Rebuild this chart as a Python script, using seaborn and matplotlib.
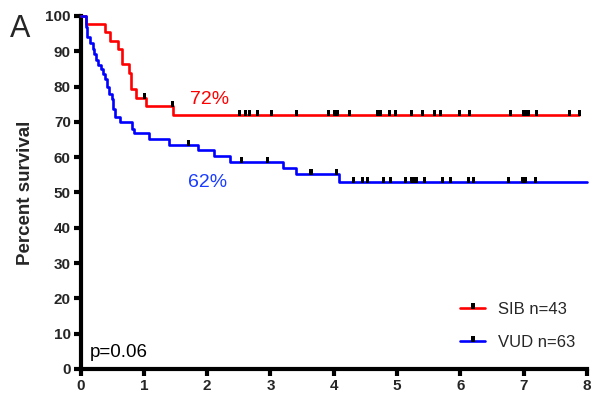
import numpy as np
import pandas as pd
import seaborn as sns
import matplotlib
matplotlib.use("Agg")
import matplotlib.pyplot as plt
from matplotlib.lines import Line2D
from matplotlib.path import Path
from matplotlib.legend_handler import HandlerTuple

# ---- data ----
sib_time = [0, 0.09, 0.38, 0.47, 0.59, 0.65, 0.77, 0.80, 0.87, 1.04, 1.46, 7.88]
sib_surv = [100, 97.7, 95.4, 93.0, 90.7, 86.3, 83.9, 79.2, 76.8, 74.5, 72.0, 72.0]
sib_cens_time = [1.01, 1.46, 2.51, 2.61, 2.67, 2.80, 3.02, 3.41, 3.92, 4.02, 4.06, 4.25,
                 4.69, 4.73, 4.88, 4.98, 5.23, 5.40, 5.59, 5.68, 5.98, 6.14, 6.79,
                 6.99, 7.03, 7.07, 7.20, 7.73, 7.88]
sib_cens_surv = [76.8, 74.5] + [72.0] * 27

vud_time = [0, 0.08, 0.09, 0.10, 0.11, 0.15, 0.19, 0.22, 0.24, 0.27, 0.33, 0.36, 0.39,
            0.42, 0.45, 0.49, 0.52, 0.55, 0.62, 0.81, 0.84, 1.08, 1.39, 1.86, 2.11,
            2.36, 3.20, 3.40, 4.09, 8.0]
vud_surv = [100, 98.4, 96.8, 95.2, 94.0, 92.2, 90.7, 89.3, 87.4, 86.0, 85.0, 83.6, 82.2,
            79.9, 78.0, 76.6, 73.7, 71.4, 70.0, 67.9, 66.7, 65.2, 63.5, 62.0, 60.4,
            58.7, 56.9, 55.1, 52.9, 52.9]
vud_cens_time = [1.71, 2.54, 2.95, 3.64, 4.05, 4.31, 4.45, 4.53, 4.78, 4.89, 5.13, 5.23,
                 5.27, 5.30, 5.43, 5.72, 5.85, 6.13, 6.20, 6.76, 6.98, 7.02, 7.18]
vud_cens_surv = [63.5, 58.7, 58.7, 55.1, 55.1] + [52.9] * 18

groups = ["SIB n=43", "VUD n=63"]
colors = {"SIB n=43": "#ff0000", "VUD n=63": "#0000ff"}
x_ticks = [0, 1, 2, 3, 4, 5, 6, 7, 8]
y_ticks = [0, 10, 20, 30, 40, 50, 60, 70, 80, 90, 100]

curves = pd.concat([
    pd.DataFrame({"time": sib_time, "surv": sib_surv, "group": groups[0]}),
    pd.DataFrame({"time": vud_time, "surv": vud_surv, "group": groups[1]}),
])
cens = pd.concat([
    pd.DataFrame({"time": sib_cens_time, "surv": sib_cens_surv, "group": groups[0]}),
    pd.DataFrame({"time": vud_cens_time, "surv": vud_cens_surv, "group": groups[1]}),
])

# ---- style ----
sns.set_style("white")
plt.rcParams["font.family"] = ["Liberation Sans", "DejaVu Sans"]

fig = plt.figure(figsize=(5.92, 3.99), dpi=100)
ax = fig.add_axes([0.136, 0.0752, 0.8556, 0.885])

for g in groups:
    sub = curves[curves.group == g]
    sns.lineplot(data=sub, x="time", y="surv", color=colors[g], lw=1.9,
                 drawstyle="steps-post", ax=ax, clip_on=False, zorder=3,
                 estimator=None, sort=False, legend=False)

tick_marker = Path([(-0.3, -0.2), (0.3, -0.2), (0.3, 1.0), (-0.3, 1.0), (-0.3, -0.2)],
                   [Path.MOVETO, Path.LINETO, Path.LINETO, Path.LINETO, Path.CLOSEPOLY])
sns.scatterplot(data=cens, x="time", y="surv", marker=tick_marker, s=55,
                color="black", edgecolor="none", linewidth=0, ax=ax,
                zorder=4, clip_on=False, legend=False)

ax.set_xlim(0, 8)
ax.set_ylim(0, 100)
ax.set_xticks(x_ticks)
ax.set_yticks(y_ticks)
ax.set_xticklabels([str(v) for v in x_ticks], fontsize=11, fontweight="bold")
ax.set_yticklabels([str(v) for v in y_ticks], fontsize=11, fontweight="bold")
ax.set_xlabel("")
ax.set_ylabel("Percent survival", fontsize=13.5, fontweight="bold", labelpad=8)
for side in ["top", "right"]:
    ax.spines[side].set_visible(False)
for side in ["left", "bottom"]:
    ax.spines[side].set_linewidth(3)
    ax.spines[side].set_color("black")
ax.tick_params(axis="both", direction="out", length=5, width=3, color="black",
               pad=2, left=True, bottom=True)

ax.text(1.73, 76.2, "72%", color="#ff0000", fontsize=14, va="center", ha="left")
ax.text(1.70, 52.8, "62%", color="#1a3cff", fontsize=14, va="center", ha="left")
ax.text(0.15, 4.8, "p=0.06", color="black", fontsize=13.5, va="center", ha="left")
fig.text(10 / 592, 1 - 29 / 399, "A", fontsize=22, va="center", ha="left")

handles = []
for g in groups:
    ln = Line2D([], [], color=colors[g], lw=1.9)
    mk = Line2D([], [], marker=tick_marker, color="black", markersize=7.4,
                markeredgewidth=0, linestyle="none")
    handles.append((ln, mk))
ax.legend(handles, groups, handler_map={tuple: HandlerTuple(ndivide=1, pad=0)},
          loc="center left", bbox_to_anchor=((460 - 80) / 507, 0.122),
          frameon=False, fontsize=12, handlelength=1.5, handletextpad=0.8,
          labelspacing=1.05, borderpad=0, borderaxespad=0)

fig.savefig("out.png", dpi=100)
